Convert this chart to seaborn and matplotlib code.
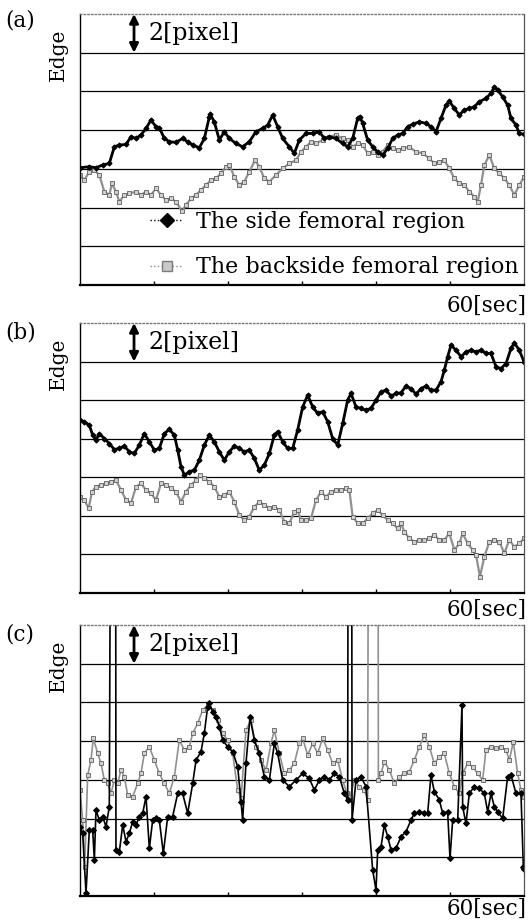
import numpy as np
import pandas as pd
import matplotlib
matplotlib.use("Agg")
import matplotlib.pyplot as plt
from matplotlib.lines import Line2D
import seaborn as sns

sns.set_theme(style="white")
plt.rcParams["font.family"] = ["DejaVu Serif"]
plt.rcParams["text.color"] = "black"

# ---------------- data (time in sec, edge position in pixel units) ----------------
a_side_t = [0.0, 1.26, 2.16, 3.06, 3.96, 4.64, 5.32, 6.22, 6.89, 7.57, 8.24, 8.92, 9.59, 10.27, 10.72, 11.40,
            12.07, 12.97, 13.87, 14.55, 15.23, 16.13, 16.80, 17.48, 17.61, 18.15, 18.83, 19.50, 20.18, 21.08,
            21.98, 22.88, 23.78, 24.68, 25.36, 26.04, 26.71, 27.39, 28.29, 28.96, 29.64, 30.54, 31.44, 32.34,
            33.02, 33.69, 34.59, 35.50, 36.17, 36.85, 37.52, 37.84, 38.20, 38.87, 39.55, 40.23, 40.90, 41.58,
            42.25, 42.93, 43.60, 44.28, 44.95, 45.86, 46.76, 47.43, 48.11, 48.78, 49.46, 49.91, 50.59, 51.26,
            51.94, 52.61, 53.29, 53.96, 54.86, 55.54, 55.99, 56.44, 57.12, 57.79, 58.24, 58.92, 59.37, 60.0]
a_side_v = [6.06, 6.11, 6.06, 6.20, 6.28, 7.14, 7.23, 7.26, 7.66, 7.57, 7.75, 8.09, 8.52, 8.18, 8.12, 7.57,
            7.40, 7.37, 7.57, 7.40, 7.23, 7.09, 7.57, 8.69, 8.81, 8.43, 7.49, 7.92, 7.57, 7.31,
            7.14, 7.40, 7.92, 8.09, 8.26, 8.78, 8.18, 7.57, 7.14, 6.80, 7.49, 7.83, 7.83, 7.92,
            7.57, 7.66, 7.57, 7.31, 7.14, 7.57, 8.61, 8.69, 8.35, 7.49, 7.14, 6.88, 6.71, 7.06,
            7.57, 7.75, 7.83, 8.18, 8.30, 8.43, 8.35, 8.18, 7.92, 8.61, 9.29, 9.50, 9.12, 8.78,
            9.04, 9.12, 9.21, 9.47, 9.64, 9.90, 10.24, 10.07, 9.72, 9.29, 8.61, 8.26, 7.83, 7.78]

a_back_t = [0.0, 0.59, 1.26, 1.94, 2.61, 3.29, 3.96, 4.32, 4.86, 5.32, 5.99, 6.67, 7.57, 8.24, 8.92, 9.59,
            10.27, 10.95, 11.62, 12.30, 12.97, 13.78, 14.32, 15.00, 15.68, 16.35, 17.03, 17.70, 18.38, 19.05,
            19.73, 20.18, 20.86, 21.53, 22.21, 22.88, 23.65, 24.23, 24.91, 25.59, 26.49, 27.39, 28.29, 29.19,
            29.86, 30.54, 31.22, 31.89, 32.79, 33.69, 34.59, 35.50, 36.17, 36.85, 37.52, 38.20, 38.87, 39.55,
            40.23, 40.90, 41.58, 42.25, 42.93, 43.60, 44.50, 45.41, 46.31, 47.21, 47.88, 48.56, 49.23, 49.91,
            50.59, 51.26, 51.94, 52.61, 53.29, 53.74, 54.19, 54.64, 55.32, 55.99, 56.67, 57.34, 58.02, 58.69,
            59.37, 60.0]
a_back_v = [5.68, 5.42, 5.85, 5.94, 5.68, 4.82, 4.65, 5.25, 4.82, 4.30, 4.65, 4.73, 4.82, 4.65, 4.82, 4.65,
            4.99, 4.65, 4.39, 4.48, 4.30, 3.82, 4.13, 4.48, 4.65, 4.91, 5.16, 5.42, 5.51, 5.77,
            6.11, 6.20, 5.59, 5.16, 5.34, 5.85, 6.45, 6.11, 5.51, 5.34, 5.68, 6.02, 6.28, 6.45,
            6.88, 7.14, 7.40, 7.31, 7.49, 7.66, 7.75, 7.57, 7.49, 7.14, 7.31, 7.23, 6.80, 6.88,
            6.71, 6.88, 7.23, 7.06, 6.97, 7.06, 7.14, 6.88, 6.80, 6.54, 6.28, 6.37, 6.45, 6.02,
            5.51, 5.25, 5.16, 4.82, 4.56, 4.30, 5.16, 6.20, 6.71, 6.02, 5.77, 5.51, 5.16, 4.65,
            5.16, 5.59]

b_side_t = [0.0, 0.59, 1.26, 1.71, 2.16, 2.61, 3.29, 3.96, 4.64, 5.32, 5.99, 6.67, 7.34, 8.02, 8.69, 9.37,
            10.05, 10.72, 11.40, 12.07, 12.75, 13.20, 13.65, 14.10, 14.77, 15.45, 16.13, 16.80, 17.48, 18.15,
            18.83, 19.50, 20.18, 20.86, 21.53, 22.21, 22.88, 23.56, 24.23, 24.91, 25.59, 26.26, 26.71, 27.39,
            28.06, 28.74, 29.41, 30.09, 30.77, 31.44, 32.12, 32.79, 33.47, 34.14, 34.82, 35.50, 36.17, 36.62,
            37.30, 37.97, 38.65, 39.32, 40.00, 40.68, 41.35, 42.03, 42.70, 43.38, 44.05, 44.73, 45.41, 46.08,
            46.76, 47.43, 48.11, 48.78, 49.23, 49.68, 50.14, 50.81, 51.49, 52.16, 52.84, 53.51, 54.19, 54.86,
            55.54, 56.22, 56.89, 57.57, 58.24, 58.69, 59.37, 60.0]
b_side_v = [8.96, 8.88, 8.70, 8.19, 7.93, 8.27, 8.01, 7.75, 7.44, 7.50, 7.62, 7.32, 7.24, 7.67, 8.27, 7.84,
            7.41, 7.50, 8.27, 8.48, 8.19, 7.41, 6.55, 6.11, 6.29, 6.37, 6.89, 7.67, 8.19, 7.84,
            7.32, 6.89, 7.32, 7.62, 7.50, 7.32, 7.41, 6.98, 6.37, 6.63, 7.24, 8.19, 8.36, 7.84,
            7.50, 7.50, 8.45, 9.65, 10.26, 9.65, 9.31, 9.40, 8.88, 8.01, 7.67, 8.79, 10.00, 10.35,
            9.65, 9.57, 9.48, 9.57, 10.00, 10.43, 10.52, 10.21, 10.35, 10.38, 10.73, 10.60, 10.31, 10.60,
            10.73, 10.52, 10.52, 10.95, 11.55, 12.25, 12.85, 12.59, 12.25, 12.50, 12.59, 12.50, 12.59, 12.42,
            12.42, 11.73, 11.64, 11.90, 12.68, 12.97, 12.59, 11.99]

b_back_t = [0.0, 0.59, 1.17, 1.62, 2.16, 2.84, 3.51, 4.19, 4.86, 5.54, 6.22, 6.89, 7.57, 8.24, 8.92, 9.59,
            10.27, 10.95, 11.62, 12.30, 12.97, 13.65, 14.32, 15.00, 15.68, 16.22, 16.80, 17.48, 18.15, 18.83,
            19.50, 20.18, 20.86, 21.53, 22.21, 22.88, 23.56, 24.23, 24.91, 25.59, 26.26, 26.94, 27.61, 28.29,
            28.96, 29.41, 29.86, 30.54, 31.22, 31.89, 32.57, 33.24, 33.92, 34.59, 35.27, 35.95, 36.40, 36.85,
            37.52, 38.20, 38.87, 39.55, 40.23, 40.90, 41.58, 42.25, 42.93, 43.38, 43.83, 44.50, 45.18, 45.86,
            46.53, 47.21, 47.88, 48.56, 49.23, 49.91, 50.59, 51.26, 51.71, 52.39, 53.06, 53.51, 54.05, 54.64,
            55.32, 55.99, 56.67, 57.34, 58.02, 58.69, 59.37, 60.0]
b_back_v = [4.99, 4.82, 4.39, 5.25, 5.51, 5.60, 5.68, 5.77, 5.85, 5.34, 4.82, 4.65, 5.51, 5.68, 5.34, 5.16,
            4.82, 5.68, 5.60, 5.42, 5.25, 4.73, 5.25, 5.60, 5.85, 6.11, 5.94, 5.77, 5.51, 4.99,
            5.08, 5.25, 4.73, 4.04, 3.78, 3.96, 4.47, 4.73, 4.56, 4.39, 4.47, 4.30, 3.70, 3.61,
            4.21, 4.30, 3.78, 3.78, 3.87, 4.82, 5.25, 4.99, 5.25, 5.34, 5.34, 5.42, 5.34, 3.96,
            3.61, 3.61, 3.87, 4.13, 4.30, 4.04, 3.78, 3.61, 3.35, 3.61, 3.18, 2.83, 2.66, 2.75,
            2.75, 2.83, 3.01, 2.75, 2.75, 3.09, 2.23, 2.57, 3.09, 2.57, 2.23, 1.97, 0.85, 1.88,
            2.66, 2.75, 2.66, 2.06, 2.75, 2.40, 2.57, 2.83]

c_side_t = [0.0, 0.36, 0.81, 1.26, 1.71, 1.94, 2.16, 2.61, 3.06, 3.51, 3.96, 4.32, 4.77, 4.86, 5.32, 5.77,
            6.22, 6.67, 7.12, 7.57, 8.02, 8.47, 8.92, 9.37, 9.82, 10.27, 10.72, 11.26, 11.85, 12.52,
            13.20, 13.87, 14.55, 15.23, 15.68, 16.35, 16.80, 17.25, 17.48, 17.93, 18.38, 18.83, 19.28, 19.95,
            20.63, 21.31, 21.76, 21.98, 22.43, 22.97, 23.56, 24.23, 24.91, 25.59, 26.26, 26.71, 27.39, 28.29,
            29.19, 30.09, 30.99, 31.67, 32.34, 33.02, 33.69, 34.37, 35.05, 35.72, 36.17, 36.31, 36.67, 36.76,
            37.30, 37.97, 38.65, 39.55, 40.00, 40.23, 40.68, 41.13, 41.58, 42.03, 42.70, 43.38, 44.05, 44.73,
            45.18, 45.86, 46.53, 46.98, 47.43, 47.88, 48.56, 49.01, 49.68, 50.00, 50.36, 51.04, 51.62, 51.71,
            52.16, 52.61, 53.29, 53.96, 54.64, 55.09, 55.54, 55.99, 56.44, 57.12, 57.79, 58.24, 58.92, 59.59,
            59.91, 60.0]
c_side_v = [3.58, 3.24, 0.14, 3.41, 3.41, 1.86, 4.44, 3.92, 4.10, 3.58, 4.61, 40.0, 40.0, 2.38, 2.29, 3.67,
            2.81, 3.24, 3.84, 3.67, 4.10, 4.27, 5.13, 2.46, 3.92, 4.01, 3.92, 2.20, 4.10, 4.10,
            5.30, 5.30, 4.27, 5.82, 7.02, 7.45, 8.40, 9.78, 9.95, 9.52, 9.26, 8.74, 8.06, 7.71,
            7.45, 6.68, 4.87, 3.92, 6.85, 9.23, 8.06, 7.37, 6.16, 5.99, 7.88, 7.37, 5.99, 5.65,
            5.99, 6.33, 6.08, 5.47, 5.99, 6.16, 5.99, 6.33, 6.16, 5.30, 4.96, 40.0, 40.0, 3.92,
            5.99, 6.16, 5.65, 1.34, 0.31, 2.38, 2.55, 3.67, 3.06, 2.38, 2.46, 3.06, 3.32, 3.92,
            4.27, 4.35, 4.30, 4.27, 6.25, 5.39, 4.96, 4.27, 4.35, 1.94, 3.92, 3.92, 9.86, 4.61,
            3.75, 5.30, 5.65, 5.56, 5.30, 4.35, 5.30, 4.61, 4.35, 4.01, 6.16, 6.25, 5.30, 5.30,
            1.51, 1.40]

c_back_t = [0.0, 0.36, 0.63, 1.04, 1.49, 1.80, 2.39, 2.84, 3.29, 3.74, 4.19, 4.64, 5.09, 5.54, 5.99, 6.44,
            7.12, 7.79, 8.24, 8.69, 9.37, 10.05, 10.72, 11.40, 12.07, 12.75, 13.42, 14.10, 14.77, 15.23,
            15.90, 16.58, 17.25, 17.93, 18.60, 19.28, 19.95, 20.63, 21.31, 21.76, 22.43, 23.11, 23.78, 24.45,
            25.14, 25.81, 26.26, 26.94, 27.61, 28.29, 28.96, 29.64, 30.09, 30.77, 31.44, 32.12, 32.79, 33.47,
            34.14, 34.82, 35.50, 36.04, 36.40, 37.07, 37.75, 38.42, 38.87, 39.10, 40.23, 40.32, 40.68, 41.13,
            41.80, 42.48, 43.15, 43.83, 44.50, 45.18, 45.86, 46.53, 47.21, 47.88, 48.56, 49.23, 49.91, 50.59,
            51.26, 51.71, 52.39, 53.06, 53.74, 54.41, 54.86, 55.54, 56.22, 56.89, 57.57, 58.02, 58.56, 59.14,
            59.59, 60.0]
c_back_v = [5.47, 3.92, 1.51, 6.25, 7.02, 8.14, 7.37, 6.85, 5.99, 5.82, 5.30, 5.99, 5.82, 6.51, 6.16, 5.22,
            5.13, 5.82, 6.33, 7.37, 7.71, 7.02, 6.33, 5.82, 5.30, 6.16, 8.06, 7.54, 7.71, 8.40,
            8.92, 9.60, 9.86, 9.60, 9.09, 8.40, 8.06, 7.37, 5.47, 5.04, 8.57, 9.09, 7.71, 7.02,
            6.51, 7.88, 8.57, 7.37, 6.33, 6.51, 6.85, 7.88, 8.14, 7.28, 7.88, 7.37, 8.14, 7.54,
            6.85, 7.02, 5.99, 5.30, 4.96, 5.99, 5.65, 5.47, 4.96, 40.0, 40.0, 5.99, 6.33, 6.94,
            6.51, 5.82, 6.16, 6.33, 6.42, 7.02, 7.71, 8.31, 7.71, 6.85, 7.19, 7.37, 6.33, 5.65,
            5.30, 6.33, 6.85, 6.68, 6.33, 5.99, 7.54, 7.71, 7.62, 7.71, 7.54, 7.02, 7.97, 6.33,
            5.47, 5.13]

panel_labels = ["(a)", "(b)", "(c)"]
series_labels = ["The side femoral region", "The backside femoral region"]
scale_text = "2[pixel]"
time_text = "60[sec]"
y_label = "Edge"

panels = [(a_side_t, a_side_v, a_back_t, a_back_v),
          (b_side_t, b_side_v, b_back_t, b_back_v),
          (c_side_t, c_side_v, c_back_t, c_back_v)]

# ---------------- layout ----------------
W, H = 528, 921
fig = plt.figure(figsize=(W / 100, H / 100), dpi=100)
ax_px = [(14, 285), (323, 593), (625, 896)]
time_label_y = [306, 610, 909]
x0, x1 = 80, 524

gray_line = "#909090"
for i, ((st, sv, bt, bv), (top, bot)) in enumerate(zip(panels, ax_px)):
    ax = fig.add_axes([x0 / W, 1 - bot / H, (x1 - x0) / W, (bot - top) / H])
    ax.set_facecolor("white")
    ax.set_xlim(0, 60)
    ax.set_ylim(0, 14)
    ax.set_yticks([2, 4, 6, 8, 10, 12])
    ax.set_xticks([10, 20, 30, 40, 50])
    ax.set_xticklabels([])
    ax.set_yticklabels([])
    ax.tick_params(axis="y", length=0)
    ax.tick_params(axis="x", direction="in", length=3, width=1, color="black", bottom=True)
    ax.grid(axis="y", color="black", lw=0.9)
    ax.grid(axis="x", visible=False)
    ax.set_axisbelow(True)
    for s in ["left", "bottom"]:
        ax.spines[s].set_color("black")
    ax.spines["left"].set_linewidth(1.0)
    ax.spines["bottom"].set_linewidth(1.6)
    ax.spines["top"].set_color("#777777")
    ax.spines["top"].set_linestyle(":")
    ax.spines["top"].set_linewidth(1.0)
    ax.spines["right"].set_color("#555555")
    ax.spines["right"].set_linewidth(0.9)

    ms = 3.0 if i == 2 else 2.6
    dfb = pd.DataFrame({"t": bt, "v": bv})
    sns.lineplot(data=dfb, x="t", y="v", ax=ax, sort=False, estimator=None,
                 color=gray_line, lw=1.6 if i < 2 else 1.2, marker="s", markersize=ms,
                 markerfacecolor="#d0d0d0", markeredgecolor="#606060", markeredgewidth=0.6)
    dfs = pd.DataFrame({"t": st, "v": sv})
    sns.lineplot(data=dfs, x="t", y="v", ax=ax, sort=False, estimator=None,
                 color="black", lw=2.0 if i < 2 else 1.2, marker="D", markersize=ms,
                 markeredgecolor="black", markerfacecolor="black")
    ax.set_xlabel("")
    ax.set_ylabel("")

    # scale arrow and text
    ax.annotate("", xy=(7.3, 14), xytext=(7.3, 12),
                arrowprops=dict(arrowstyle="<|-|>", color="black", lw=2.0,
                                mutation_scale=13, shrinkA=0, shrinkB=0))
    ax.text(9.3, 13, scale_text, ha="left", va="center", fontsize=17, color="black")

    # panel label, Edge, time label
    fig.text(5 / W, 1 - (top + (7 if i == 0 else 10)) / H, panel_labels[i],
             ha="left", va="center", fontsize=15.5)
    fig.text(58 / W, 1 - (top + 41) / H, y_label, rotation=90, ha="center", va="center",
             fontsize=14.5)
    fig.text(527 / W, 1 - time_label_y[i] / H, time_text, ha="right", va="center", fontsize=15.5)

    if i == 0:
        handles = [Line2D([], [], color="black", ls=":", lw=1.0, marker="D", markersize=7,
                          markerfacecolor="black"),
                   Line2D([], [], color="#8a8a8a", ls=":", lw=1.0, marker="s", markersize=7,
                          markerfacecolor="#c8c8c8", markeredgecolor="#7a7a7a")]
        ax.legend(handles, series_labels, loc="upper left",
                  bbox_to_anchor=((150 - x0) / (x1 - x0), (bot - 211) / (bot - top)),
                  frameon=False, fontsize=16, handlelength=1.5, handletextpad=0.55,
                  labelspacing=1.05, borderpad=0, borderaxespad=0)

fig.savefig("out.png", dpi=100, facecolor="white")
